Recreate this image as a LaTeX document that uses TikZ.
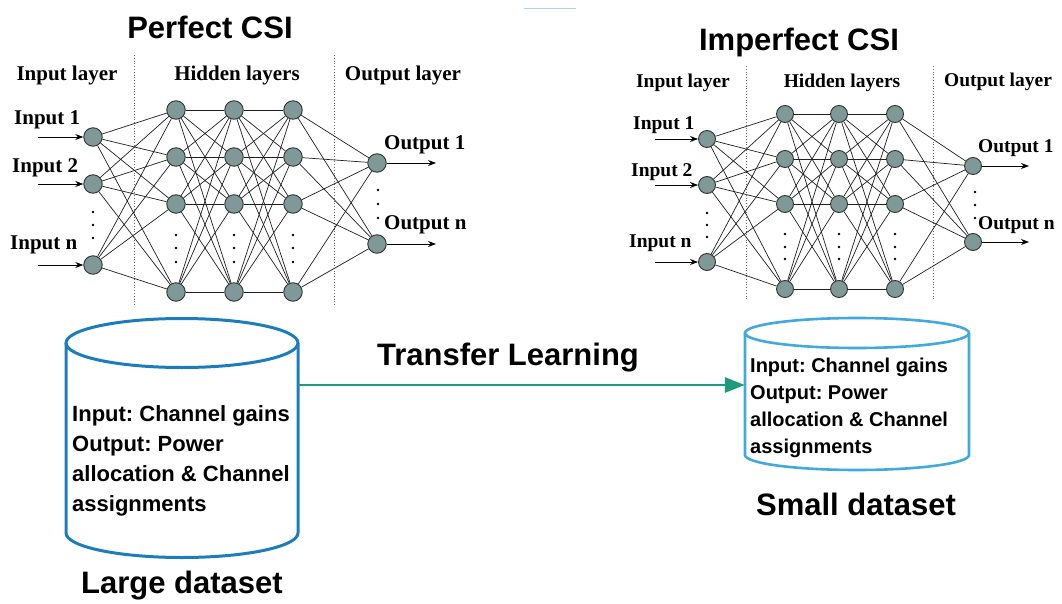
\documentclass[tikz,border=0pt]{standalone}
\usepackage{fontspec}
\setmainfont{Liberation Serif}
\setsansfont{Liberation Sans}
\usetikzlibrary{arrows.meta}
\frenchspacing

\definecolor{neuron}{HTML}{7F9898}
\definecolor{neuronedge}{HTML}{2E3333}
\definecolor{bigdb}{HTML}{1C7DBD}
\definecolor{smalldb}{HTML}{41A9DD}
\definecolor{transfer}{HTML}{1E9A7C}
\definecolor{faint}{HTML}{A9D6EC}

\begin{document}
\begin{tikzpicture}[x=1pt,y=-1pt,
  neuronL/.style={circle,draw=neuronedge,fill=neuron,line width=0.9pt,minimum size=18.5pt,inner sep=0pt},
  neuronS/.style={neuronL,minimum size=17pt},
  link/.style={line width=0.7pt,black!88},
  feed/.style={line width=0.9pt,black,-{Stealth[length=8pt,width=6pt]}},
  sep/.style={dotted,line width=0.8pt,black!60},
  dotmark/.style={fill=black},
  lblL/.style={font=\bfseries\fontsize{21}{21}\selectfont,inner sep=0pt},
  lblS/.style={font=\bfseries\fontsize{19.5}{19.5}\selectfont,inner sep=0pt},
  title/.style={font=\sffamily\bfseries\fontsize{31}{31}\selectfont,inner sep=0pt,anchor=base},
  dbtext/.style={font=\sffamily\bfseries,align=left,inner sep=0pt,anchor=north west},
]
\useasboundingbox (0,0) rectangle (1062,604);
\fill[white] (0,0) rectangle (1062,604);

% thin rule at the top
\draw[faint,line width=1pt] (524,9) -- (576,9);

% ---------------- network trained with perfect CSI ----------------
\node[title] (tperf) at (210,39) {Perfect CSI};

\draw[sep] (134,55) -- (134,305);
\draw[sep] (334,55) -- (334,305);

\node[lblL] (Llin) at (67,75) {Input layer};
\node[lblL] (Llhid) at (237,75) {Hidden layers};
\node[lblL] (Llout) at (403,75) {Output layer};

\foreach \n/\y in {1/137,2/184,3/265}
  \node[neuronL] (La\n) at (93,\y) {};
\foreach \c/\x in {1/176,2/234,3/293}
  \foreach \n/\y in {1/110,2/157,3/204,4/292}
    \node[neuronL] (Lh\c\n) at (\x,\y) {};
\foreach \n/\y in {1/163,2/244}
  \node[neuronL] (Lo\n) at (377,\y) {};

\foreach \i in {1,2,3}
  \foreach \j in {1,...,4}
    \draw[link] (La\i) -- (Lh1\j);
\foreach \i in {1,...,4}
  \foreach \j in {1,...,4} {
    \draw[link] (Lh1\i) -- (Lh2\j);
    \draw[link] (Lh2\i) -- (Lh3\j);
  }
\foreach \i in {1,...,4}
  \foreach \j in {1,2}
    \draw[link] (Lh3\i) -- (Lo\j);

% ellipsis dots
\foreach \y in {212,225,238} \fill[dotmark] (93,\y) circle (1.4);
\foreach \x in {176,234,293}
  \foreach \y in {235,248,262} \fill[dotmark] (\x,\y) circle (1.4);
\foreach \y in {190,204,218} \fill[dotmark] (378,\y) circle (1.4);

% inputs and outputs
\node[lblL,anchor=west] (Lt1) at (14,120) {Input 1};
\node[lblL,anchor=west] (Lt2) at (12,168) {Input 2};
\node[lblL,anchor=west] (Lt3) at (10,245) {Input n};
\foreach \n/\y in {1/137,2/184,3/265} {
  \coordinate (Lsrc\n) at (38,\y);
  \draw[feed] (Lsrc\n) -- (La\n);
}
\node[lblL,anchor=west] (Lu1) at (384,145) {Output 1};
\node[lblL,anchor=west] (Lu2) at (384,225) {Output n};
\foreach \n/\y in {1/163,2/244} {
  \coordinate (Ldst\n) at (436,\y);
  \draw[feed] (Lo\n) -- (Ldst\n);
}

% ---------------- network trained with imperfect CSI ----------------
\node[title] (timp) at (799,51) {Imperfect CSI};

\draw[sep] (746,66) -- (746,300);
\draw[sep] (933,66) -- (933,300);

\node[lblS] (Rlin) at (683,83) {Input layer};
\node[lblS] (Rlhid) at (842,83) {Hidden layers};
\node[lblS] (Rlout) at (998,82) {Output layer};

\foreach \n/\y in {1/139,2/185,3/262}
  \node[neuronS] (Ra\n) at (707,\y) {};
\foreach \c/\x in {1/785,2/839,3/895}
  \foreach \n/\y in {1/114,2/159,3/204,4/289}
    \node[neuronS] (Rh\c\n) at (\x,\y) {};
\foreach \n/\y in {1/166,2/242}
  \node[neuronS] (Ro\n) at (973,\y) {};

\foreach \i in {1,2,3}
  \foreach \j in {1,...,4}
    \draw[link] (Ra\i) -- (Rh1\j);
\foreach \i in {1,...,4}
  \foreach \j in {1,...,4} {
    \draw[link] (Rh1\i) -- (Rh2\j);
    \draw[link] (Rh2\i) -- (Rh3\j);
  }
\foreach \i in {1,...,4}
  \foreach \j in {1,2}
    \draw[link] (Rh3\i) -- (Ro\j);

\foreach \y in {213,225,237} \fill[dotmark] (707,\y) circle (1.3);
\foreach \x in {785,839,895}
  \foreach \y in {234,247,259} \fill[dotmark] (\x,\y) circle (1.3);
\foreach \y in {192,205,218} \fill[dotmark] (975,\y) circle (1.3);

\node[lblS,anchor=west] (Rt1) at (633,125) {Input 1};
\node[lblS,anchor=west] (Rt2) at (631,172) {Input 2};
\node[lblS,anchor=west] (Rt3) at (629,243) {Input n};
\foreach \n/\y in {1/139,2/185,3/262} {
  \coordinate (Rsrc\n) at (655,\y);
  \draw[feed] (Rsrc\n) -- (Ra\n);
}
\node[lblS,anchor=west] (Ru1) at (978,148) {Output 1};
\node[lblS,anchor=west] (Ru2) at (978,225) {Output n};
\foreach \n/\y in {1/166,2/242} {
  \coordinate (Rdst\n) at (1029,\y);
  \draw[feed] (Ro\n) -- (Rdst\n);
}

% ---------------- datasets ----------------
% large dataset cylinder
\draw[bigdb,line width=3pt]
  (66,343) -- (66,533) arc[start angle=180,end angle=0,x radius=116,y radius=24.5] -- (298,343);
\draw[bigdb,line width=3pt] (182,343) ellipse [x radius=116,y radius=24.5];
\node[draw=none,minimum width=232pt,minimum height=190pt,inner sep=0pt] (large) at (182,438) {};
\node[dbtext,font=\sffamily\bfseries\fontsize{22}{30}\selectfont] (largetxt) at (72,405)
  {Input: Channel gains\\Output: Power\\allocation \& Channel\\assignments};
\node[title] (largelbl) at (182,593) {Large dataset};

% small dataset cylinder
\draw[smalldb,line width=2.6pt]
  (745,333) -- (745,455) arc[start angle=180,end angle=0,x radius=112,y radius=15] -- (969,333);
\draw[smalldb,line width=2.6pt] (857,333) ellipse [x radius=112,y radius=15];
\node[draw=none,minimum width=224pt,minimum height=122pt,inner sep=0pt] (small) at (857,394) {};
\node[dbtext,font=\sffamily\bfseries\fontsize{20}{27}\selectfont] (smalltxt) at (750,358)
  {Input: Channel gains\\Output: Power\\allocation \& Channel\\assignments};
\node[title] (smalllbl) at (856,515) {Small dataset};

% transfer learning link
\coordinate (tlrow) at (0,385);
\draw[transfer,line width=2.8pt,-{Triangle[length=20pt,width=15pt]}]
  (large.east |- tlrow) -- (small.west |- tlrow);
\node[title] (tl) at (508,365) {Transfer Learning};

\end{tikzpicture}
\end{document}
